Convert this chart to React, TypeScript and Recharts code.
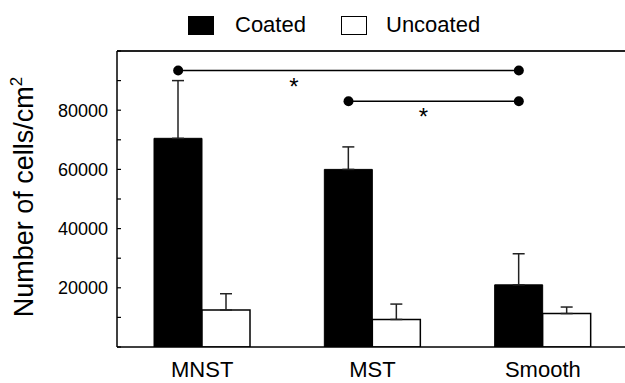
import { BarChart, Bar, XAxis, YAxis, ErrorBar, ReferenceLine } from "recharts";

const categories = ["MNST", "MST", "Smooth"];
const coated = [70500, 60000, 21000];
const coatedErr = [19500, 7600, 10500];
const uncoated = [12500, 9300, 11300];
const uncoatedErr = [5500, 5200, 2200];
const yTicks = [0, 10000, 20000, 30000, 40000, 50000, 60000, 70000, 80000, 90000, 100000];
const labeledTicks = [20000, 40000, 60000, 80000];

// significance brackets between the coated bars
const brackets = [
  { from: "MNST", to: "Smooth", y: 93400, starAt: 0.34 },
  { from: "MST", to: "Smooth", y: 83000, starAt: 0.44 },
];

const FONT = "'Liberation Sans', Arial, sans-serif";
const BAR = 48;

const data = categories.map((c, i) => ({
  name: c,
  coated: coated[i],
  coatedErr: [0, coatedErr[i]],
  uncoated: uncoated[i],
  uncoatedErr: [0, uncoatedErr[i]],
}));

function YLabel() {
  return (
    <text
      x={33}
      y={197}
      transform="rotate(-90 33 197)"
      textAnchor="middle"
      fontFamily={FONT}
      fontSize={27}
      fill="#000"
    >
      Number of cells/cm
      <tspan fontSize={17} dy={-11}>2</tspan>
    </text>
  );
}

// line between the centres of the coated bars, dots at the ends, star below
function makeBracket(starAt: number) {
  return (p: any) => {
    const a = p.x1 - BAR / 2;
    const b = p.x2 - BAR / 2;
    const y = p.y1;
    return (
      <g>
        <line x1={a} y1={y} x2={b} y2={y} stroke="#000" strokeWidth={1.5} />
        <circle cx={a} cy={y} r={5} fill="#000" />
        <circle cx={b} cy={y} r={5} fill="#000" />
        <text x={a + (b - a) * starAt} y={y + 24} textAnchor="middle" fontFamily={FONT} fontSize={24} fill="#000">
          *
        </text>
      </g>
    );
  };
}

export default function App() {
  return (
    <div style={{ position: "absolute", left: 0, top: 0, width: 625, height: 383, overflow: "hidden", fontFamily: FONT }}>
      <div style={{ position: "absolute", left: 188, top: 16, width: 26, height: 19, background: "#000" }} />
      <div style={{ position: "absolute", left: 235, top: 10, fontSize: 22, lineHeight: "30px" }}>Coated</div>
      <div
        style={{
          position: "absolute",
          left: 341,
          top: 16,
          width: 24,
          height: 17,
          background: "#fff",
          border: "1px solid #000",
        }}
      />
      <div style={{ position: "absolute", left: 386, top: 10, fontSize: 22, lineHeight: "30px" }}>Uncoated</div>
      <BarChart
        width={640}
        height={383}
        data={data}
        margin={{ top: 51, right: 12, bottom: 5, left: 37 }}
        barGap={0}
        barSize={BAR}
      >
        <XAxis
          dataKey="name"
          axisLine={{ stroke: "#000", strokeWidth: 1.5 }}
          tickLine={false}
          height={31}
          tickMargin={8}
          tick={{ fontSize: 22, fill: "#000", fontFamily: FONT }}
        />
        <YAxis
          width={80}
          domain={[0, 100000]}
          ticks={yTicks}
          interval={0}
          allowDataOverflow
          tickSize={-4}
          tickMargin={13}
          axisLine={{ stroke: "#000", strokeWidth: 1.5 }}
          tickLine={{ stroke: "#000", strokeWidth: 1.2 }}
          tickFormatter={(v: number) => (labeledTicks.includes(v) ? String(v) : "")}
          tick={{ fontSize: 18, fill: "#000", fontFamily: FONT }}
          label={<YLabel />}
        />
        <ReferenceLine y={100000} stroke="#222" strokeWidth={2} />
        <Bar dataKey="coated" fill="#000" stroke="#000" strokeWidth={1} isAnimationActive={false}>
          <ErrorBar dataKey="coatedErr" direction="y" width={6} stroke="#222" strokeWidth={1.5} />
        </Bar>
        <Bar dataKey="uncoated" fill="#fff" stroke="#000" strokeWidth={1.5} isAnimationActive={false}>
          <ErrorBar dataKey="uncoatedErr" direction="y" width={6} stroke="#222" strokeWidth={1.5} />
        </Bar>
        {brackets.map((b, i) => (
          <ReferenceLine
            key={i}
            segment={[
              { x: b.from, y: b.y },
              { x: b.to, y: b.y },
            ]}
            shape={makeBracket(b.starAt)}
          />
        ))}
      </BarChart>
    </div>
  );
}
